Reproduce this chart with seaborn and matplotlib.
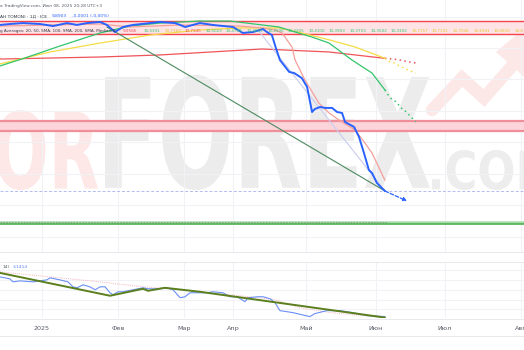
import numpy as np
import matplotlib
matplotlib.use("Agg")
import matplotlib.pyplot as plt
import seaborn as sns
from matplotlib.textpath import TextPath
from matplotlib.font_manager import FontProperties
from matplotlib.patches import PathPatch, Polygon
from matplotlib.transforms import Affine2D, IdentityTransform
from matplotlib.lines import Line2D

# ---------------- data (bar index since start of 2025, price) ----------------
price_bar = [-13.6, -10.4, -6.1, -0.6, 3.6, 8.1, 11.3, 14.6, 18.8, 21.0, 23.6, 26.2, 29.4, 38.2,
             43.0, 44.7, 46.3, 51.1, 55.3, 61.8, 65.0, 68.3, 71.5, 72.8, 74.4, 75.7, 77.0, 80.0,
             81.6, 84.1, 85.8, 87.4, 88.3, 90.0, 91.6, 93.9, 95.5, 97.1, 98.1, 101.0, 102.6,
             104.2, 105.8, 106.8, 108.4, 110.0, 111.0]
price = [10.947, 10.953, 10.959, 10.953, 10.940, 10.959, 10.947, 10.959, 10.966, 10.947, 10.902,
         10.934, 10.947, 10.966, 10.959, 10.947, 10.934, 10.959, 10.947, 10.934, 10.896, 10.902,
         10.921, 10.902, 10.883, 10.800, 10.724, 10.648, 10.641, 10.609, 10.552, 10.393, 10.412,
         10.425, 10.419, 10.419, 10.393, 10.387, 10.329, 10.298, 10.234, 10.132, 10.024, 10.005,
         9.941, 9.909, 9.8903]
forecast_bar = [111.0, 118.1]
forecast_price = [9.8903, 9.827]

ma20_bar = [-13.6, 2.6, 18.8, 28.5, 44.7, 64.1, 71.2, 75.4, 77.7, 80.9, 81.9, 85.1, 89.6, 92.9,
            96.1, 101.3, 104.5, 106.8, 111.0]
ma20 = [10.940, 10.947, 10.953, 10.934, 10.947, 10.940, 10.928, 10.915, 10.896, 10.807, 10.724,
        10.597, 10.450, 10.387, 10.342, 10.279, 10.196, 10.132, 9.9586]

ma50_bar = [-13.6, -5.5, 5.8, 18.8, 28.5, 38.2, 51.1, 60.8, 71.2, 76.7, 81.9, 87.4, 92.9, 100.3,
            106.8, 111.0]
ma50 = [10.686, 10.737, 10.813, 10.896, 10.940, 10.959, 10.972, 10.972, 10.947, 10.934, 10.902,
        10.870, 10.832, 10.724, 10.641, 10.5331]

ma100_bar = [-13.6, 2.6, 18.8, 35.0, 51.1, 64.1, 76.7, 84.1, 93.2, 101.3, 111.0]
ma100 = [10.699, 10.775, 10.832, 10.883, 10.915, 10.928, 10.928, 10.896, 10.851, 10.807, 10.735]

ma200_bar = [-13.6, 18.8, 38.2, 71.2, 92.9, 111.0]
ma200 = [10.730, 10.743, 10.756, 10.794, 10.775, 10.7345]

proj_bar = [111, 112, 113, 114, 115, 116, 117, 118, 119, 120, 121]
ma50_proj = [10.5331, 10.5023, 10.4788, 10.4653, 10.4506, 10.4205, 10.4100, 10.3903, 10.3703,
             10.3502, 10.3302]
ma100_proj = [10.7350, 10.7157, 10.7132, 10.7046, 10.6941, 10.6835, 10.6745, 10.6650, 10.6560,
              10.6480, 10.6410]
ma200_proj = [10.7345, 10.7330, 10.7310, 10.7290, 10.7260, 10.7230, 10.7190, 10.7150, 10.7110,
              10.7080, 10.7050]

trend_bar = [21.0, 111.0]
trend_price = [10.934, 9.8903]
lav_bar = [69.9, 111.0]
lav_price = [10.915, 9.8903]

band_top = (10.8895, 10.9722)
band_mid = (10.2721, 10.3358)
green_levels = [9.6949, 9.6784]
last_price = 9.8903

# lower indicator pane
ind_bar = [-13.6, -10.4, -9.4, -7.1, -2.9, 1.6, 2.6, 5.8, 8.4, 10.0, 11.3, 13.3, 15.5, 17.2, 18.8,
           20.4, 22.0, 23.0, 24.6, 26.2, 29.4, 32.7, 34.3, 37.2, 40.5, 42.4, 44.7, 46.3, 47.9,
           50.2, 53.4, 55.3, 58.6, 60.8, 63.1, 64.7, 65.7, 66.7, 69.9, 71.5, 73.8, 75.4, 77.0,
           81.2, 86.7, 88.3, 92.2, 96.4, 100.6, 105.2, 111.0]
ind = [5.141, 5.041, 4.891, 4.941, 4.891, 4.991, 5.091, 4.991, 4.891, 4.641, 4.591, 4.741, 4.641,
       4.491, 4.641, 4.641, 4.341, 4.241, 4.391, 4.391, 4.491, 4.591, 4.541, 4.541, 4.591, 4.491,
       4.091, 4.141, 4.341, 4.341, 4.341, 4.391, 4.341, 4.141, 4.141, 3.991, 3.891, 4.091, 4.141,
       4.141, 4.041, 3.841, 3.441, 3.341, 3.141, 3.291, 3.441, 3.441, 3.341, 3.191, 3.1414]
ind_trend_bar = [-13.6, 22.0, 32.7, 34.3, 39.8, 51.1, 111.0]
ind_trend = [5.341, 4.191, 4.541, 4.441, 4.591, 4.391, 3.091]
ind_ma_bar = [-13.6, 2.6, 18.8, 32.7, 41.4, 51.1, 64.1, 75.4, 83.5, 93.2, 111.0]
ind_ma = [5.391, 5.141, 4.891, 4.641, 4.541, 4.391, 4.191, 3.991, 3.591, 3.341, 3.091]

tick_labels = ["2025", "Фев", "Мар", "Апр", "Май", "Июн", "Июл", "Авг"]
tick_pos = [0, 24.6, 46.0, 61.8, 85.4, 108.1, 130.4, 155.0]

header1 = "а TradingView.com, Июн 08, 2025 20:28 UTC+3"
header2 = "АН TOMON) · 1Д · ICE"
header2_vals = ["9,8903", "-0,0001 (-0,00%)"]
header3 = "g Averages: 20, 50, SMA, 100, SMA, 200, SMA, Median/N"
ma_label_values = ["9,9586", "10,5331", "10,7350", "10,7345", "10,5023", "10,4788", "10,4653",
                   "10,4506", "10,4205", "10,4100", "10,3903", "10,3703", "10,3502", "10,3302",
                   "10,7157", "10,7132", "10,7046", "10,6941", "10,6835", "10,67"]
ind_label = "14)"
ind_value = "3,1414"

# ---------------- styling ----------------
sns.set_theme(style="white")
plt.rcParams['font.family'] = ['DejaVu Sans']

C_PRICE = "#2962ff"
C_MA20 = "#f4a09a"
C_MA50 = "#33c56c"
C_MA100 = "#f5dc47"
C_MA200 = "#ef5459"
C_TREND = "#4d8a5e"
C_LAV = "#c9cdee"
C_GRID = "#f1f2f5"
TXT = "#555b66"

W, H = 524, 350
fig = plt.figure(figsize=(W / 100, H / 100), dpi=100)
fig.patch.set_facecolor("white")

def px_axes(top, bottom):
    return fig.add_axes([0, 1 - bottom / H, 1, (bottom - top) / H])

ax = px_axes(0, 252)
ax2 = px_axes(262, 318)
for a in (ax, ax2):
    a.set_facecolor("none")
    for s in a.spines.values():
        s.set_visible(False)
    a.set_xlim(-13.6, 156.0)
    a.set_xticks(tick_pos)
    a.grid(True, axis="x", color=C_GRID, lw=0.8)
    a.tick_params(length=0)

ax.set_ylim(9.5021, 11.1058)
ax.set_yticks(np.arange(9.6, 11.1, 0.2))
ax.grid(True, axis="y", color=C_GRID, lw=0.8)
ax.set_xticklabels([])
ax.set_yticklabels([])
ax.set_xlabel("")
ax.set_ylabel("")

# bands and levels
ax.axhspan(*band_top, color="#fde3e6", lw=0, zorder=1)
for v in band_top:
    ax.axhline(v, color="#f4434f", lw=1.0, zorder=2)
ax.axhspan(*band_mid, color="#fbd5da", lw=0, zorder=1)
for v in band_mid:
    ax.axhline(v, color="#f08e99", lw=1.6, zorder=2)
ax.axhline(green_levels[0], color="#a8dcaa", lw=1.8, zorder=2)
ax.axhline(green_levels[1], color="#4cb050", lw=1.2, zorder=2)
ax.plot([-13.6, 111.5], [green_levels[0], green_levels[0]], color="#8a9a8a", lw=0.6,
        ls=(0, (2, 1.5)), zorder=3)
ax.axhline(last_price, color="#b3bcf2", lw=0.7, ls=(0, (3, 2)), zorder=2)

# moving averages
sns.lineplot(x=ma200_bar, y=ma200, ax=ax, color=C_MA200, lw=0.9, zorder=4)
sns.lineplot(x=ma100_bar, y=ma100, ax=ax, color=C_MA100, lw=0.9, zorder=4)
sns.lineplot(x=ma50_bar, y=ma50, ax=ax, color=C_MA50, lw=0.9, zorder=4)
sns.lineplot(x=ma20_bar, y=ma20, ax=ax, color=C_MA20, lw=0.9, zorder=4)
dot = (0, (1, 2.2))
sns.lineplot(x=proj_bar, y=ma200_proj, ax=ax, color=C_MA200, lw=1.1, ls=dot, zorder=4)
sns.lineplot(x=proj_bar, y=ma100_proj, ax=ax, color=C_MA100, lw=1.1, ls=dot, zorder=4)
sns.lineplot(x=proj_bar, y=ma50_proj, ax=ax, color=C_MA50, lw=1.1, ls=dot, zorder=4)

# trend lines
sns.lineplot(x=trend_bar, y=trend_price, ax=ax, color=C_TREND, lw=0.8, zorder=5)
sns.lineplot(x=lav_bar, y=lav_price, ax=ax, color=C_LAV, lw=0.8, zorder=5)

# price
sns.lineplot(x=price_bar, y=price, ax=ax, color=C_PRICE, lw=1.4, zorder=6)
ax.annotate("", xy=(forecast_bar[1], forecast_price[1]), xytext=(forecast_bar[0], forecast_price[0]),
            arrowprops=dict(arrowstyle="-|>", color=C_PRICE, lw=0.9, ls=(0, (3, 1.5)),
                            mutation_scale=5, shrinkA=0, shrinkB=0), zorder=6)

# lower pane
ax2.set_ylim(3.07, 5.891)
ax2.set_yticks([3.5, 4.0, 4.5, 5.0, 5.5])
ax2.grid(True, axis="y", color=C_GRID, lw=0.8)
ax2.set_yticklabels([])
sns.lineplot(x=ind_ma_bar, y=ind_ma, ax=ax2, color="#f4b3c0", lw=0.7, ls=(0, (1, 1.2)), zorder=3)
sns.lineplot(x=ind_bar, y=ind, ax=ax2, color="#6a8ff5", lw=0.8, zorder=4)
sns.lineplot(x=ind_trend_bar, y=ind_trend, ax=ax2, color="#5b7f1d", lw=1.4, zorder=5)
ax2.set_xticklabels(tick_labels)
ax2.tick_params(axis="x", labelsize=4.6, labelcolor=TXT, pad=6)
ax2.set_xlabel("")
ax2.set_ylabel("")

# separators
for ypx in (252, 262, 319, 336):
    fig.add_artist(Line2D([0, 1], [1 - ypx / H] * 2, transform=fig.transFigure,
                          color="#e3e5ea", lw=0.6, zorder=1))

# ---------------- watermark ----------------
def wm(s, x0, x1, ytop, ybot, color):
    tp = TextPath((0, 0), s, size=100, prop=FontProperties(family="DejaVu Sans", weight="bold"))
    bb = tp.get_extents()
    tr = (Affine2D().translate(-bb.x0, -bb.y0)
          .scale((x1 - x0) / bb.width, (ybot - ytop) / bb.height)
          .translate(x0, H - ybot))
    p = PathPatch(tr.transform_path(tp), transform=IdentityTransform(), fc=color, ec="none",
                  zorder=-2)
    fig.add_artist(p)

wm("OR", -4, 98, 110, 190, "#fde7e7")
wm("FOREX", 105, 430, 75, 190, "#ececec")
wm(".COM", 432, 556, 150, 190, "#ededed")
fig.add_artist(Line2D([432, 462, 484, 512], [H - 110, H - 78, H - 98, H - 66],
                      transform=IdentityTransform(), color="#fde8e8", lw=9,
                      solid_joinstyle="miter", zorder=-2))
fig.add_artist(Polygon([[496, H - 52], [534, H - 20], [530, H - 82]], closed=True,
                       transform=IdentityTransform(), fc="#fde8e8", ec="none", zorder=-2))

# ---------------- header texts ----------------
def ftxt(x, y, s, color, size=3.2, **kw):
    fig.text(x / W, 1 - y / H, s, color=color, fontsize=size, va="center", ha="left", **kw)

ftxt(0, 6, header1, TXT, size=3.05)
ftxt(0, 16, header2, "#333a44")
ftxt(52, 16, header2_vals[0], C_PRICE)
ftxt(72, 16, header2_vals[1], C_PRICE)
ftxt(0, 31, header3, "#333a44", size=2.95)
label_colors = ([C_MA200, C_MA50, "#e8c42c", C_MA200] + [C_MA50] * 10 + ["#e8c42c"] * 6)
for i, (v, c) in enumerate(zip(ma_label_values, label_colors)):
    ftxt(123 + i * 20.6, 31, v, c, size=3.0)
ftxt(3, 267, ind_label, TXT)
ftxt(13, 267, ind_value, "#5b86f5")

fig.savefig("out.png", dpi=100, facecolor="white")
